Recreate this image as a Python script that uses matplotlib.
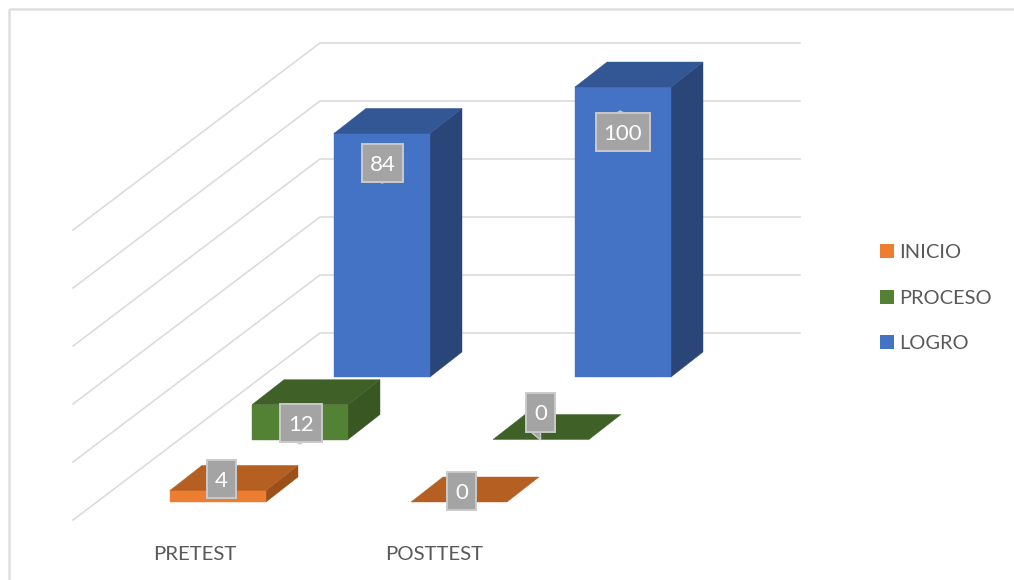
import matplotlib
matplotlib.use("Agg")
import matplotlib.pyplot as plt
from matplotlib.patches import Polygon, Rectangle, Patch

plt.rcParams['font.family'] = ['Lato', 'DejaVu Sans']

# ---- data ----
categories = ["PRETEST", "POSTTEST"]
series_names = ["INICIO", "PROCESO", "LOGRO"]
inicio = [4, 0]
proceso = [12, 0]
logro = [84, 100]
grid_values = [0, 20, 40, 60, 80, 100]

# ---- styles and layout (pixels of the 1014x580 canvas) ----
front_colors = ["#ED7D31", "#548235", "#4472C4"]
top_colors = ["#B56022", "#3F6128", "#335694"]
side_colors = ["#9C5019", "#385723", "#2A4678"]
GRID = "#DCDCDC"
TEXT = "#595959"

PX_PER_UNIT = 2.9
X0, Y0 = 170, 502          # front-left base of first category, first series
CAT_DX = 241               # shift between categories
SER_DX, SER_DY = 82, -62.5 # shift between series
BAR_W = 96
DEPTH_DX, DEPTH_DY = 32, -25
WALL_X, WALL_Y0, WALL_RIGHT = 320, 333, 800
WALL_DX, WALL_DY = -247, 187

# label box: (cat, series) -> centre x, centre y, width, height
label_boxes = {
    (0, 0): (221.5, 479, 29, 38),
    (0, 1): (301, 423, 42, 38),
    (0, 2): (382.5, 163, 41, 38),
    (1, 0): (461.5, 491, 29, 38),
    (1, 1): (540.5, 412.5, 29, 39),
    (1, 2): (623, 132, 54, 38),
}
label_tails = [
    [(296, 442), (300, 444), (303, 442)],
    [(380, 182), (382, 183), (385, 182)],
    [(617, 113), (620, 111), (624, 113)],
    [(531, 432), (540.5, 440), (540.5, 432)],
]


def project(cat, ser, value, along=0.0, depth=0.0):
    """Map a bar corner (category, series, value) to canvas pixels."""
    x = X0 + cat * CAT_DX + ser * SER_DX + along * BAR_W + depth * DEPTH_DX
    y = Y0 + ser * SER_DY + depth * DEPTH_DY - value * PX_PER_UNIT
    return (x, y)


fig = plt.figure(figsize=(10.14, 5.80), dpi=100, facecolor="white")
ax = fig.add_axes([0, 0, 1, 1])
ax.set_xlim(0, 1014)
ax.set_ylim(580, 0)
ax.axis("off")

# chart frame
ax.add_patch(Rectangle((9, 9), 1100, 1100, fill=False, ec="#DEDEDE", lw=1.8, zorder=0))

# walls
for v in grid_values:
    y = WALL_Y0 - v * PX_PER_UNIT
    ax.plot([WALL_X + WALL_DX, WALL_X, WALL_RIGHT], [y + WALL_DY, y, y],
            color=GRID, lw=1.2, solid_joinstyle="miter", zorder=1)

# bars, back to front
all_series = [inicio, proceso, logro]
z = 2
for s in reversed(range(len(all_series))):
    for c, v in enumerate(all_series[s]):
        p = lambda a, d, val: project(c, s, val, a, d)
        if v > 0:
            ax.add_patch(Polygon([p(1, 0, 0), p(1, 1, 0), p(1, 1, v), p(1, 0, v)],
                                 fc=side_colors[s], ec=side_colors[s], lw=0.3, zorder=z))
            ax.add_patch(Polygon([p(0, 0, 0), p(1, 0, 0), p(1, 0, v), p(0, 0, v)],
                                 fc=front_colors[s], ec=front_colors[s], lw=0.3, zorder=z))
        ax.add_patch(Polygon([p(0, 0, v), p(1, 0, v), p(1, 1, v), p(0, 1, v)],
                             fc=top_colors[s], ec=top_colors[s], lw=0.3, zorder=z))
        z += 1

# data labels
for tail in label_tails:
    ax.add_patch(Polygon(tail, fc="#A5A5A5", ec="#CACACA", lw=1.0, zorder=50))
for s, vals in enumerate(all_series):
    for c, v in enumerate(vals):
        cx, cy, w, h = label_boxes[(c, s)]
        ax.add_patch(Rectangle((cx - w / 2, cy - h / 2), w, h, fc="#A4A4A4",
                               ec="#CACACA", lw=1.4, zorder=51))
        ax.text(cx, cy + 1.8, str(v), color="white", fontsize=16, ha="center",
                va="center", zorder=52)

# category labels
for c, name in enumerate(categories):
    ax.text(194.5 + c * 239.5, 554, name, color=TEXT, fontsize=14.7, ha="center",
            va="center", zorder=5)

# legend
handles = [Patch(fc=col, ec="none", label=n) for col, n in zip(front_colors, series_names)]
ax.legend(handles=handles, loc="upper left", bbox_to_anchor=(880, 244),
          bbox_transform=ax.transData, frameon=False, fontsize=14.4, labelcolor=TEXT,
          borderpad=0, borderaxespad=0, handlelength=0.7, handleheight=0.7,
          handletextpad=0.26, labelspacing=1.43)

fig.savefig("out.png", dpi=100)
